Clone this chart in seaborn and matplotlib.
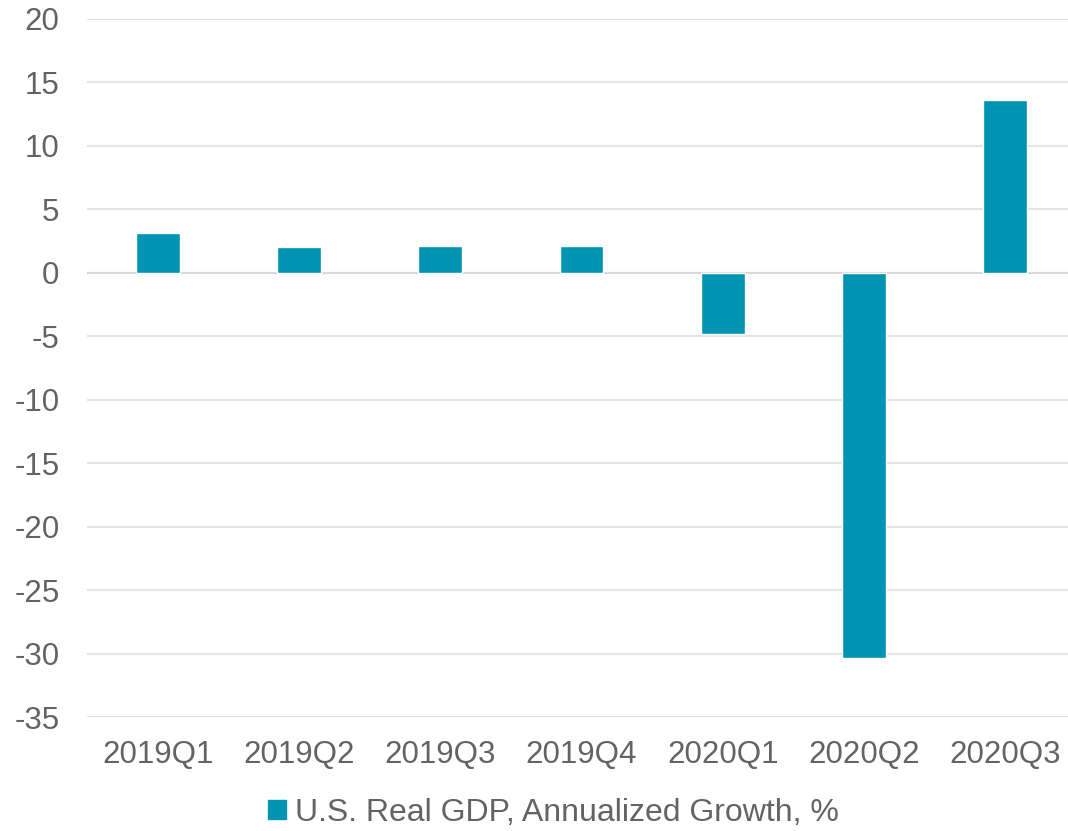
import matplotlib
matplotlib.use("Agg")
import matplotlib.pyplot as plt
import seaborn as sns
import pandas as pd

quarters = ["2019Q1", "2019Q2", "2019Q3", "2019Q4", "2020Q1", "2020Q2", "2020Q3"]
growth = [3.1, 2.0, 2.1, 2.1, -4.8, -30.3, 13.6]
y_ticks = [20, 15, 10, 5, 0, -5, -10, -15, -20, -25, -30, -35]
series_label = "U.S. Real GDP, Annualized Growth, %"

bar_color = "#0094B4"
text_color = "#636363"
grid_color = "#e3e3e3"
font_pt = 22.5

sns.set_theme(style="white")
plt.rcParams["font.family"] = ["Liberation Sans", "DejaVu Sans"]

W, H = 1068, 831
fig = plt.figure(figsize=(W / 100, H / 100), dpi=100)
left_px, right_px, top_px, bottom_px = 87.3, 1075.6, 18.5, 717.3
ax = fig.add_axes([left_px / W, 1 - bottom_px / H,
                   (right_px - left_px) / W, (bottom_px - top_px) / H])

df = pd.DataFrame({"quarter": quarters, "growth": growth})
sns.barplot(data=df, x="quarter", y="growth", color=bar_color, width=0.31,
            saturation=1, ax=ax, zorder=3)

ax.set_xlim(-0.5, 6.5)
ax.set_ylim(-35, 20)
ax.set_yticks(y_ticks)
ax.set_yticklabels([str(t) for t in y_ticks])
ax.yaxis.grid(True, color=grid_color, linewidth=1.5, zorder=0)
ax.set_axisbelow(True)
for s in ax.spines.values():
    s.set_visible(False)
ax.axhline(0, color="#d9d9d9", linewidth=1.5, zorder=1)

ax.set_xlabel("")
ax.set_ylabel("")
ax.tick_params(axis="y", length=0, pad=20, labelsize=font_pt, labelcolor=text_color)
ax.tick_params(axis="x", length=0, pad=16, labelsize=font_pt, labelcolor=text_color)

handle = plt.Rectangle((0, 0), 1, 1, color=bar_color)
fig.legend([handle], [series_label], loc="center", ncol=1,
           bbox_to_anchor=(553.5 / W, 1 - 813 / H), frameon=False,
           fontsize=23, labelcolor=text_color, handlelength=0.55,
           handleheight=0.55, handletextpad=0.3, borderpad=0)

fig.savefig("out.png", dpi=100)
